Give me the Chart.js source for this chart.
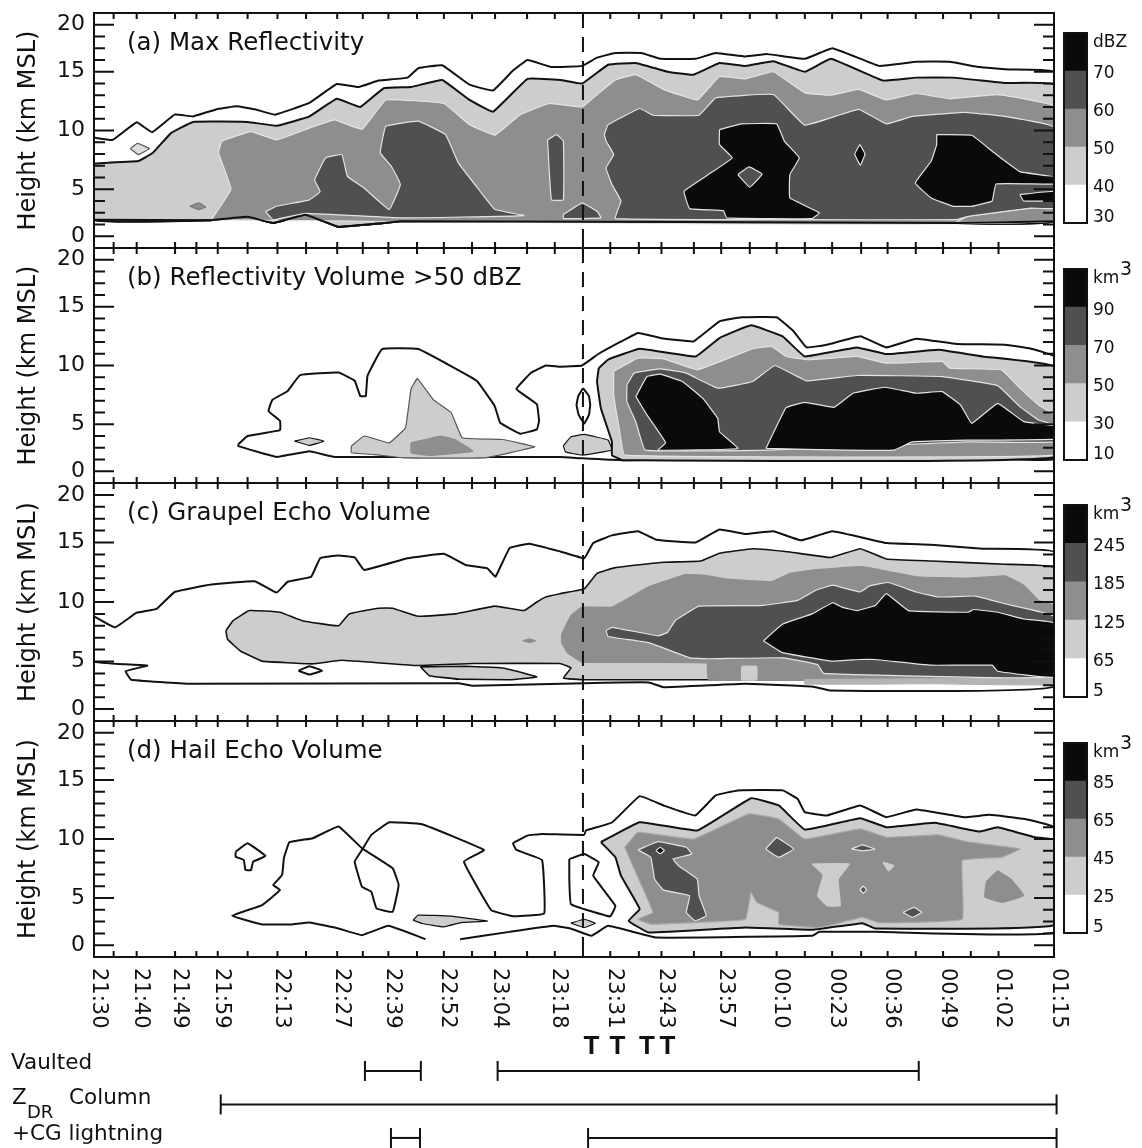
<!DOCTYPE html>
<html>
<head>
<meta charset="utf-8">
<title>Storm time-height panels</title>
<script src="https://cdn.jsdelivr.net/npm/chart.js@4/dist/chart.umd.min.js"></script>
<style>
body{margin:0;background:#fff;}
canvas{position:absolute;}
</style>
</head>
<body>
<script>
// x values are minutes after 21:30, y values are axis levels.
// the height axis has evenly spaced ticks but 0,5,10,15,20 km sit on levels 0,4,9,14,18
const xLabels = ["21:30","21:40","21:49","21:59","22:13","22:27","22:39","22:52","23:04","23:18","23:31","23:43","23:57","00:10","00:23","00:36","00:49","01:02","01:15"];
const xLabelTimes = [0,10,19,29,43,57,69,82,94,108,121,133,147,160,173,186,199,212,225];
const xMinorTimes = [4.6,24,36,49.7,63,75.7,88.6,101.5,114.6,127.7,140.6,153.7,166.6,179.8,192.6,205.5];
const yLevelLabels = {0:"0",4:"5",9:"10",14:"15",18:"20"};
const stormLine = [[114.6,19],[114.6,-1]];

// panel a
const aOuter = [[0,8.4],[4.4,8.2],[10,9.7],[13.6,8.85],[18.9,10.35],[23.2,10.2],[29.2,10.85],[33.4,11.06],[37.7,10.8],[42.4,10.35],[50.5,11.35],[56.9,12.96],[62,12.7],[66.7,13.25],[73.5,13.5],[76,14.3],[81.6,14.55],[88,12.9],[93.5,12.4],[98.2,14.1],[101.6,15],[107.2,14.4],[114.4,14.5],[117.9,15.2],[122.2,15.6],[128.3,15.6],[132.7,15.1],[141,15.1],[145.7,15.6],[152.7,15.3],[157.9,15.5],[166.6,15.1],[173.1,16],[184,14.5],[192.7,14.85],[200.5,14.85],[207.5,14.4],[214.4,14.2],[225,14]];
const aBase = [[225,1.28],[202.2,1.13],[71.8,1.28],[66.7,1.08],[57.3,0.8],[49.6,1.84],[42,1.13],[36,1.65],[27.4,1.36],[0,1.4]];
const a40 = [[0,6.2],[10.4,6.4],[13.8,7.1],[18.1,8.8],[23.2,9.73],[36,9.73],[42.8,9.4],[50.5,10.2],[56.9,11.7],[62.4,11],[67.9,12.6],[74.3,12.7],[81.6,13.3],[88,11.6],[93.5,10.6],[101.6,13.4],[109.3,13.3],[114.4,13],[120.5,14.6],[127,14.75],[134.4,14],[140.5,13.75],[146.6,14.75],[152.7,14.5],[159.2,14.9],[166.6,14],[172.7,15.1],[184.9,13.25],[192.7,13.5],[201.4,13.5],[213.5,13.05],[225,12.9]];
const a50 = [[27.5,1.4],[32.1,4],[29.2,7.1],[30,8.1],[36.8,8.9],[42.8,8.2],[50.5,9.2],[56.4,9.9],[62.8,9.1],[68.4,11.6],[82,11.3],[88,9.5],[94,8.6],[99.9,10.35],[106.7,11.3],[114.4,11],[117.9,12.05],[122.2,13.3],[127,13.75],[133.5,12.5],[141.4,11.6],[146.6,13.6],[152.7,13.4],[159.2,14],[166.6,12.2],[172.7,12],[179.2,12.5],[185.7,11.6],[192.7,12.15],[200.5,11.7],[211.8,12.05],[225,11.06],[225,1.3]];
const a60Left = [[40.2,2.1],[42.8,2.55],[50.5,3.1],[53,3.8],[51.7,4.8],[54.3,6.67],[58.1,6.95],[59.4,5.1],[63.3,4.1],[69.2,2.27],[71.8,4.4],[69.7,5.96],[67.1,7.1],[68.4,9.36],[76,9.8],[82.4,8.65],[85.4,6.24],[90.5,3.83],[94,2.27],[100.8,1.76],[71.8,1.56],[49.6,1.95],[42,1.4]];
const a60Column = [[106.3,8.2],[108.4,8.65],[110,8.1],[110,3.1],[107.2,3.1]];
const a60Foot = [[110,1.84],[114.4,2.84],[117.9,2.13],[118.8,1.56],[110,1.5]];
const a60Right = [[119.6,8.65],[120.5,9.5],[127.9,10.87],[131,10.3],[141.8,10.3],[145.7,11.77],[159.2,12.06],[166.6,9.45],[179.2,10.8],[185.7,9.56],[191.8,10.2],[204,10.55],[213.5,10.2],[225,9.28],[225,2.4],[219.6,2.4],[204.9,1.7],[202.2,1.42],[122.2,1.5],[123.5,3],[121.4,4.4],[120,5.8],[121.8,6.95],[120,8.1]];
const a70Left = [[146.6,9.08],[151.8,9.56],[160,9.56],[161.8,8.1],[165.3,6.67],[163.1,5.25],[163.1,3.26],[170,2],[168.3,1.5],[148.3,1.56],[147.5,2.18],[139.6,2.35],[138.3,3.83],[144,5.25],[149.6,6.67],[146.6,7.8]];
const a60Hole = [[150.9,5.25],[153.5,5.9],[156.6,5.3],[153.7,4.17]];
const a70Dot = [[179.5,7.8],[180.7,7],[179.6,6.04],[178.3,7]];
const a70Right = [[197.5,8.65],[205.7,8.6],[211,7.1],[217,5.5],[225,5.05],[225,4.45],[211.4,4.45],[210.5,3],[205.7,2.55],[201.4,2.55],[196.2,3.26],[192.5,4.54],[196.2,6.38],[197.5,7.8]];
const a70Stripe = [[217,3.55],[225,3.83],[225,3.04],[217.9,3]];
const a50Strip = [[204.9,1.7],[218.8,2.4],[225,2.4],[225,1.28],[202.2,1.2]];
const a40Eye = [[8.5,7.46],[10.2,7.9],[13,7.46],[10.4,6.95]];
const a50Spot = [[22.5,2.55],[24.5,2.84],[26.2,2.5],[24.5,2.27]];

// panel b
const bOuter = [[33.8,2.28],[36,3],[43.6,3.5],[43.6,4.27],[40.9,5.13],[41.8,6.07],[45.4,6.84],[48.3,8.18],[57.3,8.4],[61.1,7.7],[62.4,6.4],[63.7,6.4],[64.1,8.12],[67.5,10.4],[76,10.4],[82.9,9.1],[89.7,7.7],[93.9,5.56],[95.2,4.13],[99.9,3.2],[103.8,3.56],[104.3,4.27],[103.8,5.7],[99,7],[102.5,8.4],[105.9,9],[109.2,8.9],[114.4,9],[118.3,10],[127.5,11.77],[132.7,11.34],[140.5,11.05],[146.6,12.76],[151.8,13.1],[160,13.1],[164,11.9],[167,10.54],[171.8,10.77],[179.6,11.48],[185.7,10.54],[192.7,11.28],[202.2,10.83],[213.5,10.77],[219.6,10.43],[225,9.77],[225,1.08],[209.2,1.08],[187.5,1.23],[161.4,1.08],[124,0.94],[114.4,1.1],[109.3,1.22],[56.4,1.22],[50.5,1.7],[42.8,1.22],[33.8,2.14]];
const b30 = [[118.3,8.77],[120.5,9.5],[127.9,10.43],[141,9.77],[146.6,11.34],[154,12.42],[161.4,11.48],[166.6,9.77],[178.8,10.54],[185.7,9.97],[197.9,10.34],[208.3,9.77],[225,8.92],[225,1.2],[124,0.94],[121.4,1.37],[121.4,2.5],[118.8,5.36],[117.9,7.64]];
const b50 = [[121.8,8.5],[127.5,9.63],[133.5,9.57],[141.4,8.63],[154.4,10.43],[158.8,10.63],[162.2,9.77],[167.5,9.49],[178.8,9.77],[185.7,9.2],[198.8,9.35],[200.5,8.77],[212.7,8.63],[217,7.07],[221.4,5.64],[225,4.79],[225,1.37],[124.4,1.37],[123.1,3.65],[121.8,6.5]];
const b70 = [[124.9,7.35],[126.6,8.35],[132.7,8.72],[138.8,8.35],[146.2,7.07],[154.4,7.64],[159.6,9],[167,7.69],[178.8,8.15],[198.8,8.06],[211.8,7.29],[217,5.5],[221.4,4.36],[225,3.93],[225,2.5],[204.9,2.5],[157.9,1.8],[129.2,1.8],[127,4.2],[124.9,5.93]];
const b90Left = [[127,6.35],[129.6,8.06],[132.7,8.26],[137.9,7.64],[142.7,6.2],[146.2,4.5],[146.6,3.36],[150.9,1.94],[132.2,1.8],[134,2.42],[129.6,4.8]];
const b90Right = [[157.5,1.94],[162.2,5.41],[166.6,5.87],[173.5,5.44],[177.9,6.64],[185.3,7.15],[192.7,6.64],[198.8,6.78],[203.1,5.64],[205.7,4.07],[211.8,5.78],[217.9,4.22],[225,3.87],[225,2.74],[204.9,2.65],[191.8,2.5],[187.5,1.8],[176.2,1.8]];
const bLobe = [[110,2.17],[111.8,2.93],[114.9,3.13],[120.5,2.65],[121.4,1.8],[114.4,1.37],[110.5,1.65]];
const bEllipse = [[114.6,7.07],[116,6.4],[116.3,5.64],[116,4.8],[114.9,4.07],[113.6,4.8],[113.1,5.64],[113.5,6.4]];
const b30Hump = [[60.3,2.14],[63.3,3],[69.2,2.42],[73,3.7],[74.3,7],[75.8,7.9],[79.5,6.1],[83.7,5],[86.3,2.85],[95.7,2.7],[103.3,2.08],[97.4,1.57],[91.4,1.14],[72.6,1.14],[65.8,1.42],[60.3,1.57]];
const b50Hump = [[74.3,2.42],[81.2,3],[84.6,2.7],[88.8,1.7],[78.6,1.34],[74.3,1.57]];
const bEye = [[47,2.56],[50.5,2.85],[53.9,2.56],[50.5,2.2]];

// panel c
const cOuter = [[0,7.8],[4.9,6.87],[10,8.1],[14.7,8.43],[18.9,9.84],[27.5,10.47],[37.7,10.75],[42.8,9.79],[45.4,10.7],[50.9,11.12],[53,12.68],[57.3,12.9],[61.1,12.74],[63.3,11.69],[73.5,12.68],[82,13.05],[87.1,12.11],[92.2,11.83],[94.1,11.12],[97.4,13.53],[102,13.9],[109.3,13.25],[114.9,12.68],[117,13.96],[121.4,14.6],[127.5,14.95],[131.8,14.24],[141,14],[146.6,15.1],[152.7,14.72],[159.2,14.95],[165.7,14.18],[173.1,14.95],[185.7,13.96],[196.2,13.82],[208.3,13.48],[225,13.2],[225,1.9],[172.7,1.56],[168.3,1.9],[152.7,2.13],[133.5,1.84],[130,2.24],[114.9,2.18],[88.8,1.96],[85.4,2.18],[22.3,2.13],[8.7,2.47],[7.4,3.18],[12.5,3.66],[0,4]];
const c65 = [[30.9,6.58],[32.6,7.43],[36.4,8.28],[43.6,8.14],[48.8,7.43],[57.3,7],[59.8,8],[66.7,8.48],[70,8.48],[76,7.8],[84.6,8],[94,8.65],[100.8,8.28],[103.8,9],[105.9,9.42],[109.2,9.7],[114.9,10.1],[117.9,11.4],[122.2,11.89],[133.5,12.34],[142.2,12.45],[146.6,13.1],[154.4,13.48],[163.1,13.2],[172.7,12.74],[179.6,13.48],[185.7,12.62],[196.2,12.45],[213.5,12.17],[225,11.89],[225,2.47],[170,2.47],[114.9,2.47],[110,2.6],[111.8,3.46],[109.2,3.83],[88.8,3.83],[75.2,3.66],[58,4.1],[51.2,3.8],[39.4,4.03],[34.3,4.88],[31.3,5.87]];
const c65Lens = [[76.5,3.55],[78.6,2.81],[85.4,2.52],[97.4,2.47],[103.8,2.7],[99.1,3.18],[95.7,3.46],[87.1,3.6]];
const cDiamond = [[47.9,3.23],[50.5,3.6],[53.5,3.23],[50.5,2.9]];
const cSpot = [[100.5,5.75],[102,5.9],[103.5,5.75],[102,5.6]];
const c125 = [[109.6,6.3],[111.8,7.86],[114.4,8.57],[121.4,8.57],[130,10.27],[138.8,11.32],[144,11.2],[148.3,10.92],[158.8,10.7],[163.1,11.4],[168.3,11.69],[180.1,11.97],[192.7,11.12],[204.9,11],[213.5,11.2],[217.9,10.41],[221.4,9.13],[225,8.71],[225,2.6],[170,2.47],[144,2.47],[143.6,3.89],[114.4,3.94],[111,4.74],[109.6,5.6]];
const c65Patch = [[151.8,3.6],[155.3,3.6],[155.3,2.47],[151.8,2.47]];
const c185 = [[120,6.58],[121.4,6.87],[132.2,6.16],[134.4,6.44],[136.2,7.43],[141.8,8.65],[156.2,8.7],[164.9,9.13],[169.2,9.99],[173.1,10.41],[179.6,9.84],[181.8,10.35],[186.2,10.64],[192.7,9.84],[197.9,9.42],[206.6,9.5],[213.5,8.85],[225,7.8],[225,2.75],[196.2,2.75],[171,3],[169.6,3.74],[161.4,4.31],[144,4.23],[139.6,4.31],[130,5.59],[120.5,6.1]];
const c245 = [[156.9,5.73],[161.4,7.15],[168.3,8],[173.1,8.94],[175.3,8.57],[178.8,8.28],[183.1,8.71],[185.7,9.7],[190.9,8.28],[204.9,8.14],[206.2,8.37],[211.8,8.14],[217.9,7.57],[225,7.23],[225,2.7],[211.8,3.18],[210.5,3.69],[196.2,3.69],[183.1,4.17],[179.6,4.17],[172.7,4.03],[161.4,4.74]];
const cStrip = [[166.6,2.47],[225,2.6],[225,2.04],[196.2,2.13],[166.6,2.1]];

// panel d
const dBlob = [[33.2,7.93],[36,8.64],[40.2,7.56],[37.3,7.08],[36.8,6.37],[35.5,6.37],[35.1,7.22],[33.2,7.5]];
const dOuter = [[85.8,0.51],[97.4,1.13],[107.6,1.64],[111.7,1.42],[116.6,0.8],[120.5,1.64],[131.8,0.65],[168.3,0.8],[170,1.13],[183.1,1.13],[225,1.08],[225,10],[217.9,10.71],[210,11.05],[204,10.85],[192.7,11.5],[185.7,10.85],[179.6,11.84],[171.8,10.99],[166.6,11.27],[164.9,12.41],[161.4,13.12],[150.9,13.12],[145.7,12.69],[140.9,10.99],[133.5,11.84],[127.9,12.63],[121.4,10.4],[115.3,9.72],[114.9,9.35],[105,9.43],[101.6,9.29],[98.2,8.64],[99,8.07],[105,7.22],[105.5,2.69],[98.2,2.46],[93.1,2.97],[86.7,7.08],[91.4,8.07],[76.9,10.25],[69.2,10.42],[65,9.35],[62.8,8.07],[61.1,7.08],[62.8,4.96],[65,4.53],[66.2,3.12],[70,2.83],[71.4,5.1],[70,6.52],[62.8,8.22],[57.3,10.06],[51.3,9.07],[45.8,8.73],[44.5,7.37],[44.1,5.95],[42,5.1],[43.6,4.67],[39.4,3.4],[32.4,2.49],[39.4,1.76],[46.2,1.76],[50.5,1.93],[57.3,1.42],[62.8,0.85],[69,1.64],[77.7,0.51]];
const dIsland = [[111.4,7.3],[114.9,7.73],[118.3,7.03],[117,5.9],[122.2,3.34],[121,2.44],[111.8,3.48],[111.4,5.6]];
const dCross = [[111.8,1.87],[114.9,2.2],[117.5,1.87],[114.9,1.5]];
const d25 = [[118.8,8.73],[127.9,10.42],[141.4,9.72],[154,12.46],[160.5,11.84],[166.6,9.8],[179.6,10.76],[185.7,10],[197,10.37],[207.5,9.63],[211.8,10],[220.5,9.15],[225,8.95],[225,1.7],[183.1,1.42],[180.1,1.87],[168.3,1.3],[152.7,1.5],[130,1.08],[125.3,2.07],[127.9,3.06],[123.5,5.89],[122.2,7.45]];
const d45 = [[124.4,8.3],[127.5,9.57],[140.5,9],[153.5,11.13],[160.5,10.7],[166.6,9],[179.6,9.86],[185.7,9.15],[197.9,9.35],[204.4,8.78],[217,8.16],[212.7,7.45],[203.5,7.17],[203.5,2.2],[184,1.9],[180.1,2.35],[170,1.5],[160.5,1.78],[160.5,2.78],[155.3,3.63],[154,4.48],[152.7,2.2],[141.4,1.93],[130.5,1.78],[127.5,2.2],[131,2.78],[126.6,6.46]];
const d25Patch = [[168.3,6.88],[177,6.88],[174.4,5.6],[174.9,3.34],[171.8,3.34],[169.6,4.2],[170.9,5.95]];
const d25Speck = [[184.9,7.03],[187.5,6.74],[186.2,6.3]];
const d45Island = [[211.8,6.3],[214.9,5.6],[217.9,4.2],[212.7,3.63],[208.8,4.1],[209.2,5.4]];
const d65Main = [[127.5,8.07],[132.2,8.78],[138.8,8.3],[140.1,7.73],[135.7,7.3],[137,6.74],[141.4,5.6],[141.8,4.2],[143.5,2.5],[140.9,2.07],[138.8,2.78],[139.6,4.2],[133.5,4.67],[131.4,5.6],[130.5,7.45]];
const d85Core = [[131.7,8.02],[132.7,8.3],[133.7,8.02],[132.7,7.75]];
const d65Diamond = [[160,9.15],[164,8.16],[160.5,7.45],[157.5,8.16]];
const d65Cap = [[177.5,8.16],[180.1,8.5],[183.1,8.13],[180.1,7.99]];
const d65Dot = [[179.5,4.7],[180.3,5],[181.1,4.7],[180.3,4.4]];
const d65Low = [[189.6,2.78],[192.2,3.2],[194,2.78],[191.8,2.35]];
const dLens = [[74.8,2.12],[76,2.55],[83.7,2.46],[92.2,2.04],[86.3,1.93],[82,1.56],[76.9,1.84]];

// colour bars, bottom band to top band
const barColors = ["#ffffff","#cdcdcd","#8e8e8e","#505050","#0a0a0a"];
const barBands = [1,1,1,1,1];
const barTicks = [0.13,0.92,1.92,2.92,3.92,4.74];
const aBarLabels = ["30","40","50","60","70","dBZ"];
const bBarLabels = ["10","30","50","70","90","km"];
const cBarLabels = ["5","65","125","185","245","km"];
const dBarLabels = ["5","25","45","65","85","km"];

// bottom rows
const vaultedSpans = [[63.5,76.6],[94.6,193.3]];
const zdrSpans = [[29.7,225.6]];
const cgSpans = [[69.6,76.4],[115.8,225.6]];
const tornadoTimes = [116.6,122.7,129.6,134.4];

const C1 = "#cdcdcd", C2 = "#8e8e8e", C3 = "#505050", C4 = "#0a0a0a";
const INK = "#111111", EDGE = "#e4e4e4";
const FONT = "'DejaVu Sans'";

Chart.defaults.font.family = FONT;
Chart.defaults.color = INK;
Chart.defaults.animation = false;

function addCanvas(left, top, w, h){
    let c = document.createElement("canvas");
    c.width = w;
    c.height = h;
    c.style.left = left + "px";
    c.style.top = top + "px";
    c.style.width = w + "px";
    c.style.height = h + "px";
    document.body.appendChild(c);
    return c;
}

function toPoints(pts){
    return pts.map(p => ({x: p[0], y: p[1]}));
}

// closed filled contour
function shape(pts, color, line, width){
    let closed = pts.concat([pts[0]]);
    return {
        data: toPoints(closed),
        showLine: true,
        fill: color ? "shape" : false,
        backgroundColor: color || "transparent",
        borderColor: line,
        borderWidth: width === undefined ? 1.2 : width,
        pointRadius: 0,
        tension: 0.08
    };
}

// open contour
function path(pts, dash){
    return {
        data: toPoints(pts),
        showLine: true,
        fill: false,
        borderColor: INK,
        borderWidth: 2,
        borderDash: dash || [],
        pointRadius: 0,
        tension: dash ? 0 : 0.08
    };
}

// labels at the ends of the axis should not push the plot area in
function noLabelMargin(scale){
    scale.paddingTop = 0;
    scale.paddingBottom = 0;
}

const framePlugin = {
    id: "frame",
    afterDatasetsDraw(chart, args, opts){
        let ctx = chart.ctx, a = chart.chartArea, x = chart.scales.x, y = chart.scales.y;
        ctx.save();
        ctx.strokeStyle = INK;
        ctx.lineWidth = 2;
        ctx.beginPath();
        for(let lv = 0; lv <= 18; lv++){
            let py = y.getPixelForValue(lv);
            let len = yLevelLabels[lv] ? 20 : 11;
            ctx.moveTo(a.left, py);
            ctx.lineTo(a.left + len, py);
            ctx.moveTo(a.right, py);
            ctx.lineTo(a.right - len, py);
        }
        xLabelTimes.concat(xMinorTimes).forEach(t => {
            let px = x.getPixelForValue(t);
            ctx.moveTo(px, a.top);
            ctx.lineTo(px, a.top + 6);
            ctx.moveTo(px, a.bottom);
            ctx.lineTo(px, a.bottom - 6);
        });
        ctx.stroke();
        ctx.strokeRect(a.left, a.top, a.right - a.left, a.bottom - a.top);
        ctx.fillStyle = INK;
        ctx.font = "24.5px " + FONT;
        ctx.textBaseline = "middle";
        ctx.fillText(opts.title, a.left + 33, a.top + 31);
        ctx.restore();
    }
};

function panel(top, height, title, datasets){
    let canvas = addCanvas(0, top - 12, 1060, height + 24);
    datasets.push(path(stormLine, [15, 9]));
    datasets.forEach((d, i) => { d.order = -i; });
    return new Chart(canvas, {
        type: "scatter",
        data: {datasets: datasets},
        plugins: [framePlugin],
        options: {
            responsive: false,
            events: [],
            layout: {autoPadding: false, padding: {top: 12, bottom: 12, right: 6, left: 0}},
            scales: {
                x: {type: "linear", min: 0, max: 225, display: false},
                y: {
                    type: "linear",
                    min: -1,
                    max: 19,
                    afterFit(scale){
                        scale.width = 94;
                        noLabelMargin(scale);
                    },
                    grid: {display: false, drawTicks: false},
                    border: {display: false},
                    title: {display: true, text: "Height (km MSL)", font: {size: 24}, padding: {top: 14, bottom: 0}},
                    ticks: {
                        stepSize: 1,
                        autoSkip: false,
                        padding: 9,
                        font: {size: 22},
                        callback: v => yLevelLabels[v] || ""
                    }
                }
            },
            plugins: {
                legend: {display: false},
                tooltip: {enabled: false},
                frame: {title: title}
            }
        }
    });
}

panel(13, 235, "(a) Max Reflectivity", [
    shape(aOuter.concat(aBase), null, INK, 2),
    shape(a40.concat(aBase), C1, INK, 2),
    shape(a40Eye, "#dddddd", "#555555"),
    shape(a50Spot, C2, "#777777"),
    shape(a50, C2, EDGE),
    shape(a50Strip, C2, EDGE),
    shape(a60Left, C3, EDGE),
    shape(a60Column, C3, EDGE),
    shape(a60Foot, C3, EDGE),
    shape(a60Right, C3, EDGE),
    shape(a70Left, C4, EDGE),
    shape(a60Hole, C3, EDGE),
    shape(a70Dot, C4, EDGE),
    shape(a70Right, C4, EDGE),
    shape(a70Stripe, C4, EDGE),
    path(aBase)
]);

panel(248, 235, "(b) Reflectivity Volume >50 dBZ", [
    shape(bOuter, null, INK, 2),
    shape(bEllipse, null, INK, 2),
    shape(bEye, C1, INK),
    shape(b30Hump, C1, "#555555"),
    shape(b50Hump, C2, C2),
    shape(bLobe, C1, INK),
    shape(b30, C1, INK, 2),
    shape(b50, C2, EDGE),
    shape(b70, C3, EDGE),
    shape(b90Left, C4, EDGE),
    shape(b90Right, C4, EDGE)
]);

panel(483, 238, "(c) Graupel Echo Volume", [
    shape(cOuter, null, INK, 2),
    shape(cDiamond, null, INK, 2),
    shape(c65, C1, INK, 1.6),
    shape(c65Lens, C1, INK, 1.6),
    shape(cSpot, C2, C2),
    shape(c125, C2, C2),
    shape(c65Patch, C1, C1),
    shape(cStrip, "#b4b4b4", "#b4b4b4"),
    shape(c185, C3, EDGE),
    shape(c245, C4, EDGE)
]);

panel(721, 236, "(d) Hail Echo Volume", [
    path(dOuter),
    shape(dBlob, null, INK, 2),
    shape(dIsland, null, INK, 2),
    shape(dCross, C1, INK),
    shape(dLens, C1, INK),
    shape(d25, C1, INK, 2),
    shape(d45, C2, "#a8a8a8"),
    shape(d25Patch, C1, C1),
    shape(d25Speck, C1, C1),
    shape(d45Island, C2, C2),
    shape(d65Main, C3, EDGE),
    shape(d85Core, C4, EDGE),
    shape(d65Diamond, C3, EDGE),
    shape(d65Cap, C3, EDGE),
    shape(d65Dot, C3, EDGE),
    shape(d65Low, C3, EDGE)
]);

const barPlugin = {
    id: "barFrame",
    afterDraw(chart, args, opts){
        let ctx = chart.ctx, a = chart.chartArea;
        ctx.save();
        ctx.strokeStyle = INK;
        ctx.lineWidth = 2;
        ctx.strokeRect(a.left, a.top, a.right - a.left, a.bottom - a.top);
        if(opts.cubed){
            ctx.fillStyle = INK;
            ctx.font = "19px " + FONT;
            ctx.textBaseline = "middle";
            ctx.fillText("3", a.right + 33, chart.scales.y.getPixelForValue(barTicks[5]) - 9);
        }
        ctx.restore();
    }
};

function colorBar(top, bottom, labels){
    let canvas = addCanvas(1055, top - 10, 87, bottom - top + 20);
    let sets = barBands.map((v, i) => ({
        data: [v],
        backgroundColor: barColors[i],
        barPercentage: 1,
        categoryPercentage: 1
    }));
    return new Chart(canvas, {
        type: "bar",
        data: {labels: [""], datasets: sets},
        plugins: [barPlugin],
        options: {
            responsive: false,
            events: [],
            layout: {autoPadding: false, padding: {top: 10, bottom: 10, left: 9, right: 0}},
            scales: {
                x: {stacked: true, display: false},
                y: {
                    stacked: true,
                    position: "right",
                    min: 0,
                    max: 5,
                    afterBuildTicks(scale){ scale.ticks = barTicks.map(v => ({value: v})); },
                    afterFit(scale){
                        scale.width = 55;
                        noLabelMargin(scale);
                    },
                    grid: {display: false, drawTicks: false},
                    border: {display: false},
                    ticks: {
                        autoSkip: false,
                        padding: 6,
                        font: {size: 17},
                        callback: (v, i) => labels[i]
                    }
                }
            },
            plugins: {
                legend: {display: false},
                tooltip: {enabled: false},
                barFrame: {cubed: labels[5] === "km"}
            }
        }
    });
}

colorBar(33, 223, aBarLabels);
colorBar(269, 460, bBarLabels);
colorBar(505, 697, cBarLabels);
colorBar(743, 933, dBarLabels);

// time labels, tornado marks and the rows under the panels
const stripPlugin = {
    id: "strip",
    afterDraw(chart){
        let ctx = chart.ctx, x = chart.scales.x, y = chart.scales.y;
        ctx.save();
        ctx.fillStyle = INK;
        ctx.textBaseline = "middle";
        ctx.font = "21px " + FONT;
        xLabels.forEach((lab, i) => {
            ctx.save();
            ctx.translate(x.getPixelForValue(xLabelTimes[i]) + 4, 11);
            ctx.rotate(Math.PI / 2);
            ctx.textAlign = "left";
            ctx.fillText(lab, 0, 0);
            ctx.restore();
        });
        ctx.font = "bold 26px 'Liberation Sans'";
        ctx.textAlign = "center";
        tornadoTimes.forEach(t => {
            ctx.fillText("T", x.getPixelForValue(t), y.getPixelForValue(3.72));
        });
        ctx.textAlign = "left";
        ctx.font = "21.5px " + FONT;
        ctx.fillText("Vaulted", 11, y.getPixelForValue(3) - 8);
        ctx.fillText("Z", 12, y.getPixelForValue(2) - 6);
        ctx.fillText("Column", 69, y.getPixelForValue(2) - 6);
        ctx.fillText("+CG lightning", 12, y.getPixelForValue(1) - 4);
        ctx.font = "18px " + FONT;
        ctx.fillText("DR", 27, y.getPixelForValue(2) + 9);
        ctx.restore();
    }
};

function spanSets(spans, row){
    return spans.map(s => ({
        data: [{x: s[0], y: row}, {x: s[1], y: row}],
        showLine: true,
        borderColor: INK,
        borderWidth: 2,
        pointStyle: "line",
        pointRotation: 90,
        pointRadius: 10,
        pointBorderColor: INK,
        pointBorderWidth: 2,
        clip: false
    }));
}

new Chart(addCanvas(0, 957, 1142, 191), {
    type: "scatter",
    data: {datasets: spanSets(vaultedSpans, 3).concat(spanSets(zdrSpans, 2), spanSets(cgSpans, 1))},
    plugins: [stripPlugin],
    options: {
        responsive: false,
        events: [],
        layout: {autoPadding: false, padding: {left: 94, right: 88}},
        scales: {
            x: {type: "linear", min: 0, max: 225, display: false},
            y: {type: "linear", min: 0.7, max: 6.4, display: false}
        },
        plugins: {
            legend: {display: false},
            tooltip: {enabled: false}
        }
    }
});
</script>
</body>
</html>
